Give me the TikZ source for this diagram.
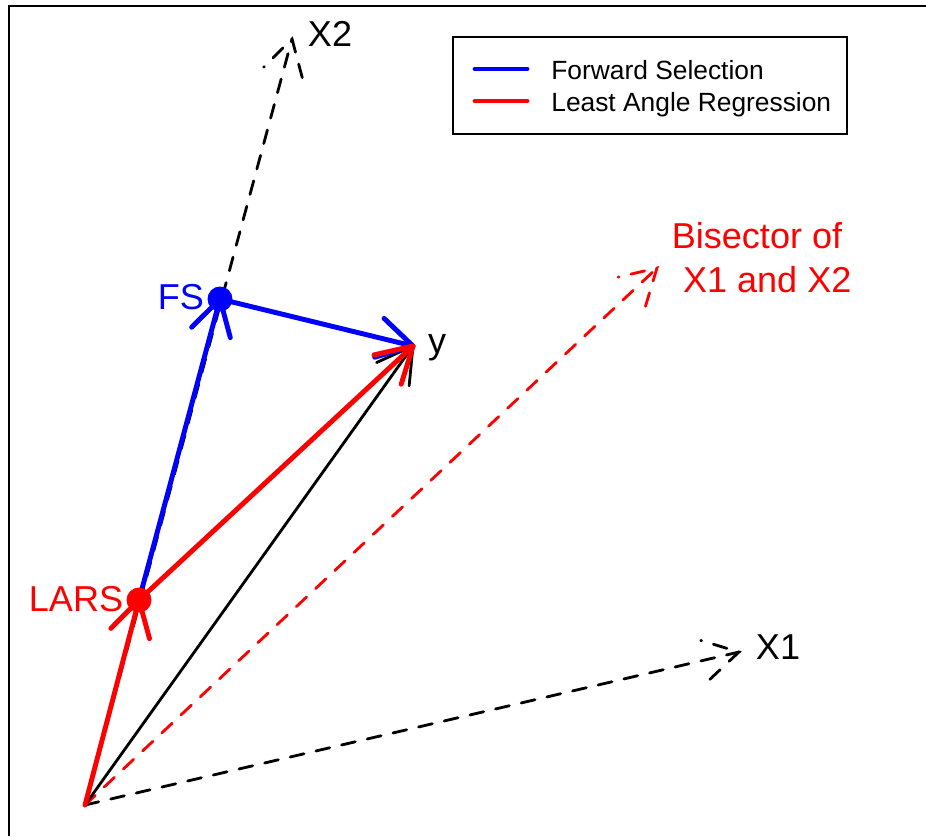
\documentclass[tikz,border=0pt]{standalone}
\usepackage{fontspec}
\setmainfont{Liberation Sans}
\usepackage{tikz}
\usetikzlibrary{calc,positioning}
\tikzset{
  vecln/.style={line width=1.6pt, line cap=round, line join=round},
  pathln/.style={line width=2.8pt, line cap=round, line join=round},
  dashln/.style={dash pattern=on 8pt off 7pt, line width=1.6pt, line cap=round},
  lbl/.style={font=\fontsize{20.5}{25}\selectfont, inner sep=0pt},
  keytext/.style={font=\fontsize{15}{18}\selectfont, anchor=base west, inner sep=0pt},
}
% open R-style arrow: shaft plus two barbs at the tip
\newcommand{\vecarrow}[3]{%
  \draw[#1] (#2) -- (#3);
  \draw[#1] ($(#3)!0.8cm!30:(#2)$) -- (#3) -- ($(#3)!0.8cm!-30:(#2)$);
}

\begin{document}
\begin{tikzpicture}[x=0.02cm,y=-0.02cm]
    \useasboundingbox (0,0) rectangle (926,836);
    % plot frame (cut at right and bottom)
    \draw[line width=1.2pt] (9,836) -- (9,6) -- (926,6);
    % points
    \coordinate (O) at (85,805);
    \coordinate (X1) at (739,652);
    \coordinate (X2) at (292,39);
    \coordinate (bis) at (657,268);
    \coordinate (y) at (413,346);
    \coordinate (FS) at (220,299);
    \coordinate (LARS) at (139,600);
    % predictors and bisector
    \vecarrow{dashln}{O}{X1}
    \vecarrow{dashln}{O}{X2}
    \vecarrow{dashln, red}{O}{bis}
    % response
    \vecarrow{vecln}{O}{y}
    % forward selection path
    \vecarrow{pathln, blue}{LARS}{FS}
    \vecarrow{pathln, blue}{FS}{y}
    % least angle path
    \vecarrow{pathln, red}{O}{LARS}
    \vecarrow{pathln, red}{LARS}{y}
    \fill[blue] (FS) circle (0.25cm);
    \fill[red] (LARS) circle (0.25cm);
    % labels
    \node[lbl] (X2lbl) at (330,34) {X2};
    \node[lbl] (X1lbl) at (778,647) {X1};
    \node[lbl] (ylbl) at (437,348) {y};
    \node[lbl, blue] (FSlbl) at (181,297) {FS};
    \node[lbl, red] (LARSlbl) at (76,599) {LARS};
    \node[lbl, red, align=center] (bislbl) at (757,258)
      {Bisector of\\\hspace*{0.57em}X1 and X2};
    % legend
    \draw[line width=1pt] (453,37) rectangle (847,134);
    \coordinate (fsa) at (475,69); \coordinate (fsb) at (527,69);
    \coordinate (lra) at (475,101); \coordinate (lrb) at (527,101);
    \draw[pathln, blue] (fsa) -- (fsb);
    \draw[pathln, red] (lra) -- (lrb);
    \node[keytext] (fskey) at (551,79) {Forward Selection};
    \node[keytext] (lrkey) at (551,111) {Least Angle Regression};
\end{tikzpicture}
\end{document}
